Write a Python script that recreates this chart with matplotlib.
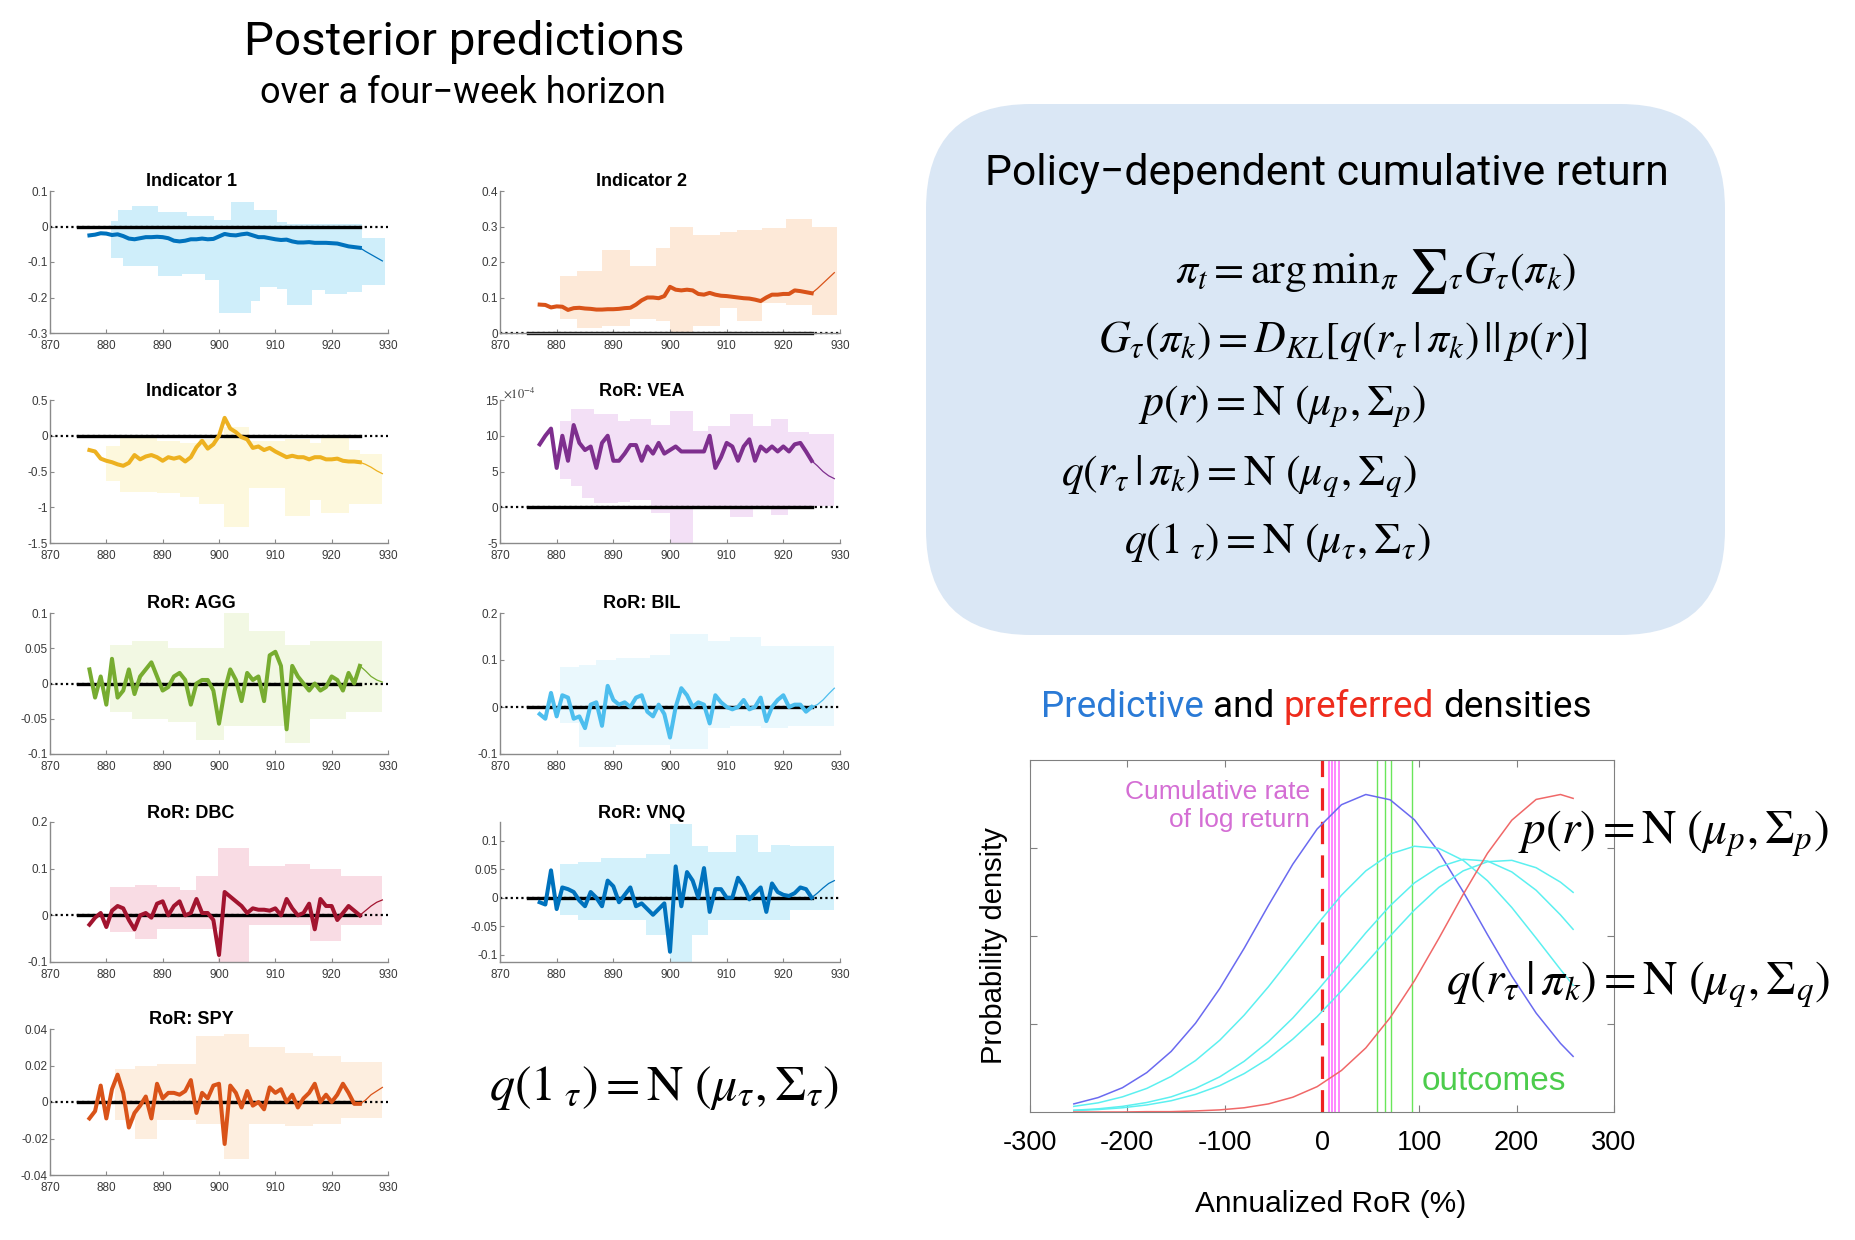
import matplotlib
matplotlib.use('Agg')
import matplotlib.pyplot as plt
from matplotlib.patches import FancyBboxPatch
from matplotlib.ticker import FormatStrFormatter

plt.rcParams['font.family'] = ['Liberation Sans', 'DejaVu Sans']
plt.rcParams['mathtext.fontset'] = 'stix'
plt.rcParams['axes.unicode_minus'] = False

# ---------------- data ----------------
weeks = list(range(877, 926))
tail_weeks = [925, 926, 927, 928, 929]

ind1_y = [-0.025, -0.023, -0.019, -0.020, -0.024, -0.022, -0.027, -0.034, -0.036, -0.033,
          -0.030, -0.030, -0.029, -0.030, -0.033, -0.040, -0.042, -0.040, -0.036, -0.036,
          -0.034, -0.036, -0.035, -0.028, -0.021, -0.024, -0.025, -0.022, -0.020, -0.025,
          -0.030, -0.030, -0.033, -0.036, -0.038, -0.037, -0.042, -0.045, -0.045, -0.044,
          -0.046, -0.046, -0.046, -0.047, -0.048, -0.052, -0.056, -0.058, -0.060]
ind1_tail = [-0.060, -0.070, -0.079, -0.088, -0.097]
ind1_edges = [880.8, 882.0, 882.9, 884.6, 889.1, 893.5, 894.4, 897.6, 899.1, 900.0, 902.2, 905.6,
              906.2, 907.3, 910.3, 912.1, 916.5, 918.9, 922.7, 925.3, 929.5]
ind1_up = [0.015, 0.046, 0.046, 0.057, 0.040, 0.040, 0.030, 0.030, 0.018, 0.018, 0.068, 0.068,
           0.046, 0.046, 0.013, 0.007, 0.007, 0.007, 0.007, -0.032]
ind1_lo = [-0.090, -0.090, -0.110, -0.110, -0.140, -0.135, -0.135, -0.150, -0.150, -0.245, -0.245,
           -0.210, -0.210, -0.170, -0.175, -0.220, -0.180, -0.190, -0.185, -0.165]

ind2_y = [0.080, 0.079, 0.072, 0.075, 0.074, 0.065, 0.070, 0.071, 0.069, 0.068,
          0.066, 0.066, 0.067, 0.067, 0.068, 0.070, 0.071, 0.080, 0.092, 0.100,
          0.100, 0.098, 0.104, 0.130, 0.122, 0.120, 0.122, 0.120, 0.110, 0.108,
          0.113, 0.108, 0.105, 0.104, 0.102, 0.100, 0.098, 0.097, 0.094, 0.090,
          0.100, 0.108, 0.108, 0.110, 0.110, 0.120, 0.118, 0.115, 0.112]
ind2_tail = [0.112, 0.125, 0.140, 0.155, 0.170]
ind2_edges = [880.6, 883.5, 888.0, 893.0, 897.6, 900.0, 904.0, 908.8, 911.8, 916.2, 920.5, 925.0, 929.5]
ind2_up = [0.160, 0.175, 0.235, 0.190, 0.240, 0.300, 0.275, 0.285, 0.290, 0.295, 0.320, 0.300]
ind2_lo = [0.040, 0.015, 0.020, 0.040, 0.035, 0.000, 0.020, 0.070, 0.035, 0.085, 0.080, 0.050]

ind3_y = [-0.20, -0.22, -0.32, -0.35, -0.37, -0.40, -0.42, -0.38, -0.27, -0.33,
          -0.29, -0.27, -0.30, -0.35, -0.30, -0.32, -0.30, -0.36, -0.30, -0.16,
          -0.07, -0.18, -0.12, 0.00, 0.25, 0.10, 0.05, -0.02, -0.05, -0.17,
          -0.15, -0.20, -0.17, -0.22, -0.26, -0.30, -0.28, -0.30, -0.30, -0.33,
          -0.30, -0.30, -0.33, -0.33, -0.32, -0.35, -0.36, -0.36, -0.37]
ind3_tail = [-0.37, -0.40, -0.44, -0.49, -0.53]
ind3_edges = [880.0, 882.5, 889.0, 893.0, 896.4, 900.8, 905.3, 911.7, 916.1, 918.1, 923.1, 925.0, 929.0]
ind3_up = [-0.15, -0.02, -0.08, -0.10, -0.05, 0.12, -0.08, -0.05, -0.10, -0.03, -0.20, -0.25]
ind3_lo = [-0.63, -0.78, -0.80, -0.85, -0.95, -1.28, -0.73, -1.12, -0.90, -1.08, -0.95, -0.95]

vea_y = [8.8, 10.0, 11.0, 5.5, 10.0, 6.5, 11.5, 9.0, 8.0, 8.5,
         5.5, 9.0, 10.0, 6.5, 6.5, 7.5, 8.7, 8.7, 6.5, 8.5,
         7.5, 9.0, 7.5, 8.0, 8.5, 7.8, 7.8, 7.8, 7.8, 7.8,
         10.0, 5.5, 7.0, 9.0, 8.5, 6.5, 8.5, 9.5, 6.5, 8.5,
         7.8, 8.5, 7.8, 8.5, 7.8, 8.8, 9.0, 7.8, 6.5]
vea_tail = [6.5, 5.8, 5.0, 4.4, 4.0]
vea_edges = [880.5, 882.5, 884.5, 886.5, 890.8, 893.0, 896.7, 900.0, 904.0, 906.7, 910.5, 914.6,
             917.9, 920.8, 924.6, 929.0]
vea_up = [12.1, 13.8, 13.8, 13.0, 12.0, 12.4, 11.5, 13.5, 10.6, 11.4, 13.0, 11.4, 12.4, 10.5, 10.2]
vea_lo = [4.0, 3.0, 1.3, 0.6, 0.8, 1.0, -0.8, -5.5, 0.0, 0.0, -1.4, 0.0, -1.1, 0.0, 0.2]

agg_y = [0.020, -0.020, 0.010, -0.030, 0.035, -0.020, -0.010, 0.020, -0.015, 0.010,
         0.020, 0.030, 0.010, -0.010, -0.005, 0.010, 0.015, 0.005, -0.030, 0.000,
         0.005, 0.005, -0.010, -0.057, -0.010, 0.020, 0.005, -0.025, 0.015, 0.005,
         0.010, -0.025, 0.040, 0.045, 0.025, -0.065, 0.025, 0.010, 0.000, -0.010,
         0.000, -0.010, -0.005, 0.010, 0.005, -0.010, 0.015, 0.000, 0.025]
agg_tail = [0.025, 0.018, 0.010, 0.005, 0.002]
agg_edges = [880.7, 884.5, 891.0, 896.0, 900.8, 905.3, 911.7, 916.1, 922.5, 929.0]
agg_up = [0.055, 0.060, 0.050, 0.050, 0.100, 0.075, 0.055, 0.060, 0.060]
agg_lo = [-0.040, -0.050, -0.055, -0.080, -0.060, -0.060, -0.085, -0.050, -0.040]

bil_y = [-0.015, -0.025, 0.030, -0.020, 0.025, 0.020, -0.025, -0.020, -0.045, 0.005,
         0.010, -0.040, 0.045, 0.015, 0.005, 0.010, 0.000, 0.020, 0.025, -0.010,
         -0.020, 0.005, -0.015, -0.065, 0.000, 0.040, 0.025, 0.000, 0.010, 0.005,
         -0.035, 0.025, 0.010, 0.000, -0.005, 0.000, 0.015, -0.005, 0.000, 0.020,
         -0.030, 0.000, 0.015, 0.025, 0.000, 0.005, 0.005, -0.010, 0.000]
bil_tail = [0.000, 0.005, 0.015, 0.028, 0.040]
bil_edges = [880.5, 884.0, 887.0, 890.5, 896.5, 900.0, 906.7, 910.5, 916.0, 920.8, 929.0]
bil_up = [0.085, 0.090, 0.100, 0.105, 0.110, 0.155, 0.140, 0.150, 0.130, 0.130]
bil_lo = [-0.035, -0.085, -0.085, -0.080, -0.080, -0.090, -0.045, -0.040, -0.045, -0.040]

dbc_y = [-0.020, -0.005, 0.005, -0.025, 0.010, 0.020, 0.015, -0.010, -0.030, 0.000,
         0.005, -0.005, 0.025, 0.030, 0.000, 0.020, 0.030, 0.000, 0.005, 0.035,
         0.005, 0.005, -0.010, -0.085, 0.050, 0.040, 0.030, 0.020, 0.005, 0.015,
         0.012, 0.012, 0.010, 0.015, 0.000, 0.035, 0.015, 0.000, 0.005, 0.025,
         -0.030, 0.035, 0.020, 0.020, -0.010, 0.005, 0.020, 0.010, 0.000]
dbc_tail = [0.000, 0.010, 0.020, 0.028, 0.033]
dbc_edges = [880.7, 885.0, 889.0, 893.0, 896.0, 899.8, 905.3, 911.7, 916.1, 921.6, 929.0]
dbc_up = [0.060, 0.065, 0.060, 0.055, 0.085, 0.145, 0.105, 0.110, 0.100, 0.085]
dbc_lo = [-0.035, -0.050, -0.030, -0.030, -0.030, -0.110, -0.020, -0.020, -0.055, -0.020]

vnq_y = [-0.008, -0.012, 0.048, -0.020, 0.018, 0.015, 0.010, -0.005, -0.015, 0.010,
         0.000, -0.015, 0.030, 0.020, -0.008, 0.005, 0.018, -0.015, -0.010, -0.020,
         -0.030, -0.020, -0.010, -0.095, 0.055, -0.015, 0.045, 0.030, 0.000, 0.052,
         -0.025, 0.015, 0.015, 0.000, 0.000, 0.035, 0.020, -0.003, 0.008, 0.018,
         -0.025, 0.025, 0.010, 0.005, 0.003, 0.008, 0.018, 0.015, 0.000]
vnq_tail = [0.000, 0.008, 0.017, 0.025, 0.030]
vnq_edges = [880.5, 883.8, 887.9, 895.8, 900.0, 903.8, 906.7, 911.7, 915.5, 917.9, 921.1, 929.0]
vnq_up = [0.060, 0.063, 0.070, 0.077, 0.130, 0.090, 0.080, 0.110, 0.080, 0.093, 0.090]
vnq_lo = [-0.030, -0.040, -0.040, -0.065, -0.120, -0.065, -0.040, -0.040, -0.040, -0.040, -0.022]

spy_y = [-0.009, -0.005, 0.009, -0.009, 0.007, 0.015, 0.005, -0.014, -0.006, -0.002,
         0.003, -0.009, 0.010, 0.002, 0.005, 0.005, 0.004, 0.006, 0.012, -0.006,
         0.005, 0.002, 0.009, 0.010, -0.023, 0.009, 0.005, -0.003, 0.006, -0.002,
         0.000, -0.004, 0.008, 0.005, 0.007, 0.000, 0.004, -0.003, 0.002, 0.005,
         0.010, 0.000, 0.004, 0.000, 0.004, 0.010, 0.005, -0.001, -0.001]
spy_tail = [-0.001, 0.001, 0.004, 0.006, 0.008]
spy_edges = [881.5, 885.0, 889.0, 896.0, 900.8, 905.3, 911.7, 916.6, 921.6, 929.0]
spy_up = [0.018, 0.020, 0.021, 0.036, 0.037, 0.030, 0.027, 0.025, 0.022]
spy_lo = [-0.010, -0.020, -0.010, -0.012, -0.031, -0.012, -0.013, -0.012, -0.009]

# densities (annualized RoR %, relative density)
dens_x = [-255, -230, -205, -180, -155, -130, -105, -80, -55, -30, -5,
          20, 45, 70, 95, 120, 145, 170, 195, 220, 245, 258]
dens_pred = [0.023, 0.041, 0.069, 0.112, 0.172, 0.252, 0.351, 0.465, 0.587, 0.704, 0.804,
             0.873, 0.902, 0.887, 0.830, 0.739, 0.626, 0.504, 0.386, 0.281, 0.195, 0.158]
dens_policy = [
    [0.016, 0.026, 0.043, 0.067, 0.101, 0.146, 0.204, 0.275, 0.356, 0.444, 0.533,
     0.616, 0.685, 0.733, 0.755, 0.749, 0.715, 0.657, 0.581, 0.494, 0.405, 0.360],
    [0.005, 0.009, 0.016, 0.027, 0.043, 0.067, 0.100, 0.144, 0.200, 0.267, 0.344,
     0.426, 0.509, 0.586, 0.651, 0.696, 0.718, 0.713, 0.682, 0.630, 0.560, 0.519],
    [0.004, 0.007, 0.012, 0.020, 0.032, 0.050, 0.075, 0.109, 0.152, 0.207, 0.271,
     0.344, 0.422, 0.500, 0.574, 0.638, 0.685, 0.711, 0.715, 0.694, 0.653, 0.624],
]
dens_pref = [0.000, 0.000, 0.000, 0.001, 0.001, 0.003, 0.006, 0.012, 0.023, 0.042, 0.072,
             0.118, 0.182, 0.268, 0.373, 0.493, 0.618, 0.735, 0.829, 0.888, 0.902, 0.891]
log_return_x = [7, 10.5, 13.5, 17]
outcome_x = [56.7, 64.6, 70.4, 92.8]

# ---------------- layout ----------------
W, H = 1855, 1240
fig = plt.figure(figsize=(W / 100, H / 100), dpi=100)
fig.patch.set_facecolor('white')


def px_axes(l, t, r, b):
    return fig.add_axes([l / W, 1 - b / H, (r - l) / W, (b - t) / H])


LEFT = (50, 388)
RIGHT = (500, 840)
ROWS = [(191, 333), (400, 543), (613, 754), (822, 962), (1029, 1175)]

panels = [
    ('Indicator 1', ind1_y, ind1_tail, ind1_edges, ind1_up, ind1_lo, '#0072BD', '#cfeefa',
     (-0.3, 0.1), [-0.3, -0.2, -0.1, 0, 0.1], LEFT, ROWS[0]),
    ('Indicator 2', ind2_y, ind2_tail, ind2_edges, ind2_up, ind2_lo, '#D95319', '#fde9d8',
     (0, 0.4), [0, 0.1, 0.2, 0.3, 0.4], RIGHT, ROWS[0]),
    ('Indicator 3', ind3_y, ind3_tail, ind3_edges, ind3_up, ind3_lo, '#EDB120', '#fdf8dd',
     (-1.5, 0.5), [-1.5, -1, -0.5, 0, 0.5], LEFT, ROWS[1]),
    ('RoR: VEA', vea_y, vea_tail, vea_edges, vea_up, vea_lo, '#7E2F8E', '#f3e0f6',
     (-5, 15), [-5, 0, 5, 10, 15], RIGHT, ROWS[1]),
    ('RoR: AGG', agg_y, agg_tail, agg_edges, agg_up, agg_lo, '#77AC30', '#f2f8e3',
     (-0.1, 0.1), [-0.1, -0.05, 0, 0.05, 0.1], LEFT, ROWS[2]),
    ('RoR: BIL', bil_y, bil_tail, bil_edges, bil_up, bil_lo, '#4DBEEE', '#eaf8fd',
     (-0.1, 0.2), [-0.1, 0, 0.1, 0.2], RIGHT, ROWS[2]),
    ('RoR: DBC', dbc_y, dbc_tail, dbc_edges, dbc_up, dbc_lo, '#A2142F', '#f9dce4',
     (-0.1, 0.2), [-0.1, 0, 0.1, 0.2], LEFT, ROWS[3]),
    ('RoR: VNQ', vnq_y, vnq_tail, vnq_edges, vnq_up, vnq_lo, '#0072BD', '#d3f1fb',
     (-0.113, 0.133), [-0.1, -0.05, 0, 0.05, 0.1], RIGHT, ROWS[3]),
    ('RoR: SPY', spy_y, spy_tail, spy_edges, spy_up, spy_lo, '#D95319', '#fdeedf',
     (-0.04, 0.04), [-0.04, -0.02, 0, 0.02, 0.04], LEFT, ROWS[4]),
]

AXGRAY = '#8a8a8a'
title_pos = []
for (name, y, tail, edges, up, lo, col, band, ylim, yt, cols, rows) in panels:
    ax = px_axes(cols[0], rows[0], cols[1], rows[1])
    ax.fill_between(edges, up + [up[-1]], lo + [lo[-1]], step='post', color=band, lw=0, zorder=1)
    ax.plot([870, 930], [0, 0], color='k', lw=1.6, ls=(0, (1, 1.4)), zorder=2, clip_on=False)
    ax.plot([875, 925], [0, 0], color='k', lw=2.4, zorder=2, clip_on=False)
    ax.plot(weeks, y, color=col, lw=2.9, zorder=3, solid_joinstyle='round')
    ax.plot(tail_weeks, tail, color=col, lw=0.9, zorder=3)
    ax.set_xlim(870, 930)
    ax.set_ylim(*ylim)
    ax.set_xticks(range(870, 931, 10))
    ax.set_yticks(yt)
    ax.yaxis.set_major_formatter(FormatStrFormatter('%g'))
    for s in ('top', 'right'):
        ax.spines[s].set_visible(False)
    for s in ('left', 'bottom'):
        ax.spines[s].set_color(AXGRAY)
        ax.spines[s].set_linewidth(1.0)
    ax.tick_params(direction='in', length=3, width=0.8, color=AXGRAY,
                   labelsize=8.5, labelcolor='#3a3a3a')
    ax.tick_params(axis='x', pad=5)
    ax.tick_params(axis='y', pad=1.5)
    title_pos.append((name, (cols[0] + cols[1]) / 2 - 28, rows[0] - 9))

# density panel
dax = px_axes(1030, 760, 1614, 1112)
dax.plot(dens_x, dens_pred, color='#6a6af0', lw=1.1, zorder=3)
for cur in dens_policy:
    dax.plot(dens_x, cur, color='#5cf0f0', lw=1.1, zorder=3)
dax.plot(dens_x, dens_pref, color='#f06868', lw=1.1, zorder=3)
dax.axvline(0, color='#ee2222', lw=2.3, dashes=(7, 3.5), zorder=2)
for v in log_return_x:
    dax.axvline(v, color='#ff66ff', lw=1.1, zorder=2)
for v in outcome_x:
    dax.axvline(v, color='#6ae65a', lw=1.0, zorder=2)
dax.set_xlim(-300, 300)
dax.set_ylim(0, 1)
dax.set_xticks(range(-300, 301, 100))
dax.set_yticks([0.25, 0.5, 0.75])
dax.set_yticklabels([])
for s in dax.spines.values():
    s.set_color('#808080')
dax.tick_params(direction='in', top=True, right=True, length=5, width=0.8, color='#808080',
                labelsize=19.5, pad=13)

# overlay in pixel coordinates
ov = fig.add_axes([0, 0, 1, 1], zorder=10)
ov.set_xlim(0, W)
ov.set_ylim(H, 0)
ov.axis('off')

ov.add_patch(FancyBboxPatch((926, 104), 799, 531, boxstyle='round,pad=0,rounding_size=105',
                            fc='#dae7f5', ec='none', zorder=0))

for name, tx, ty in title_pos:
    ov.text(tx, ty, name, ha='center', va='center', fontsize=13, fontweight='bold')
ov.text(503, 393, r'$\times10^{-4}$', ha='left', va='center', fontsize=9, color='#3a3a3a')

ROBOTO = ['Roboto', 'DejaVu Sans']
ov.text(464, 55, 'Posterior predictions', ha='center', va='baseline', fontsize=34.2, family=ROBOTO)
ov.text(463, 103, 'over a four\u2212week horizon', ha='center', va='baseline', fontsize=26,
        family=ROBOTO)
ov.text(1327, 174, 'Policy\u2212dependent cumulative return', ha='center', va='center',
        fontsize=30.8, family=ROBOTO)

EQ = 31.5
ov.text(1175, 272, r'$\pi_t = \mathrm{arg\,min}_{\pi}\ \sum{}_{\tau} G_{\tau}(\pi_k)$',
        ha='left', va='center', fontsize=EQ)
ov.text(1098, 341, r'$G_{\tau}(\pi_k) = D_{KL}[q(r_{\tau}\,|\,\pi_k)\,||\,p(r)]$',
        ha='left', va='center', fontsize=EQ)
ov.text(1138, 406, r'$p(r) = \mathrm{N}\ (\mu_p, \Sigma_p)$', ha='left', va='center', fontsize=EQ)
ov.text(1061, 476, r'$q\left(r_{\tau}\,|\,\pi_k\right) = \mathrm{N}\ (\mu_q, \Sigma_q)$',
        ha='left', va='center', fontsize=EQ)
ov.text(1124, 543, r'$q(\mathrm{1}_{\ \tau}) = \mathrm{N}\ (\mu_{\tau}, \Sigma_{\tau})$',
        ha='left', va='center', fontsize=EQ)
ov.text(489, 1088, r'$q(\mathrm{1}_{\ \tau}) = \mathrm{N}\ (\mu_{\tau}, \Sigma_{\tau})$',
        ha='left', va='center', fontsize=36)
ov.text(1518, 834, r'$p(r) = \mathrm{N}\ (\mu_p, \Sigma_p)$', ha='left', va='center', fontsize=34)
ov.text(1446, 985, r'$q\left(r_{\tau}\,|\,\pi_k\right) = \mathrm{N}\ (\mu_q, \Sigma_q)$',
        ha='left', va='center', fontsize=34)

# multi-coloured heading of the density panel
renderer = fig.canvas.get_renderer()
head = [('Predictive', '#2a7ad6'), ('and', 'black'), ('preferred', '#ee2b1c'), ('densities', 'black')]
hk = dict(fontsize=26.6, family=ROBOTO, va='center', ha='left')


def width_of(s):
    t = ov.text(0, 0, s, **hk)
    w = t.get_window_extent(renderer=renderer).width
    t.remove()
    return w


x0 = 1041
acc = ''
for word, c in head:
    acc = word if not acc else acc + ' ' + word
    ov.text(x0 + width_of(acc) - width_of(word), 707, word, color=c, **hk)

ov.text(1310, 806, 'Cumulative rate\nof log return', ha='right', va='center', fontsize=19,
        color='#d46ed4', linespacing=1.2)
ov.text(1494, 1082, 'outcomes', ha='center', va='center', fontsize=24, color='#4ccc4c')
ov.text(1331, 1204, 'Annualized RoR (%)', ha='center', va='center', fontsize=21.5)
ov.text(994, 946, 'Probability density', ha='center', va='center', fontsize=21, rotation=90)

fig.savefig('out.png', dpi=100)
